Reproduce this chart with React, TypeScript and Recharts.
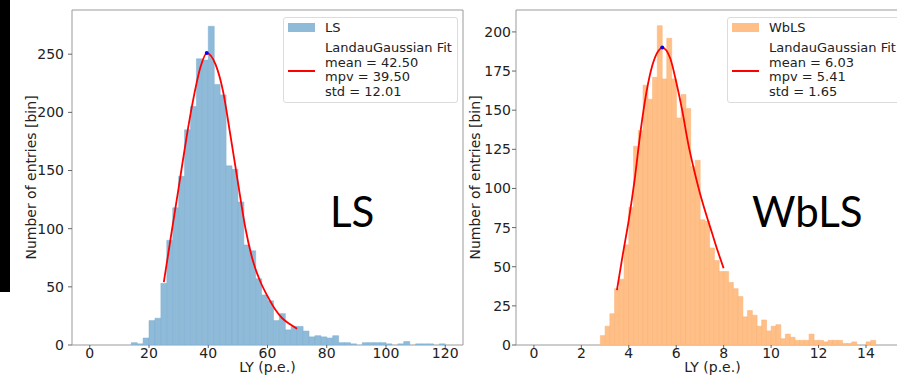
import React from 'react';
import {
  ComposedChart, Bar, Line, XAxis, YAxis, ReferenceArea, ReferenceDot, Legend
} from 'recharts';

// LS histogram (left bin edge in p.e., bin width 2)
const lsBinLeft = [14, 16, 18, 20, 22, 24, 26, 28, 30, 32, 34, 36, 38, 40, 42, 44, 46, 48, 50, 52, 54, 56, 58, 60, 62, 64, 66, 68, 70, 72, 74, 76, 78, 80, 82, 84, 86, 88, 90, 92, 94, 96, 98, 100, 102, 104, 106, 108, 110, 112, 114, 116, 118];
const lsCounts = [2, 1, 6, 21, 23, 53, 90, 118, 145, 185, 205, 246, 245, 274, 224, 215, 154, 151, 123, 86, 81, 57, 43, 38, 21, 27, 13, 16, 16, 12, 7, 8, 7, 6, 8, 2, 2, 1, 0, 2, 2, 2, 2, 1, 0, 1, 3, 0, 1, 1, 1, 0, 1];
// LandauGaussian fit
const lsFitX = [25, 27.5, 30, 32.5, 35, 37.5, 39.5, 42.5, 45, 47.5, 50, 52.5, 55, 57.5, 60, 62.5, 65, 67.5, 70];
const lsFitY = [54, 95, 135, 176, 212, 240, 251, 241, 218, 180, 140, 101, 73, 55, 42, 31, 23, 18, 14];
const lsXTicks = [0, 20, 40, 60, 80, 100, 120];
const lsYTicks = [0, 50, 100, 150, 200, 250];

// WbLS histogram (left bin edge in p.e., bin width 0.2)
const wblsBinLeft = [2.8, 3.0, 3.2, 3.4, 3.6, 3.8, 4.0, 4.2, 4.4, 4.6, 4.8, 5.0, 5.2, 5.4, 5.6, 5.8, 6.0, 6.2, 6.4, 6.6, 6.8, 7.0, 7.2, 7.4, 7.6, 7.8, 8.0, 8.2, 8.4, 8.6, 8.8, 9.0, 9.2, 9.4, 9.6, 9.8, 10.0, 10.2, 10.4, 10.6, 10.8, 11.0, 11.2, 11.4, 11.6, 11.8, 12.0, 12.2, 12.4, 12.6, 12.8, 13.0, 13.2, 13.4, 13.6, 13.8, 14.0, 14.2];
const wblsCounts = [6, 12, 20, 36, 42, 64, 88, 127, 137, 166, 157, 171, 204, 170, 196, 170, 145, 160, 151, 114, 118, 80, 79, 62, 54, 47, 47, 40, 36, 31, 18, 22, 19, 12, 16, 9, 12, 13, 4, 7, 5, 3, 3, 3, 7, 3, 3, 2, 3, 3, 3, 1, 1, 2, 0, 0, 2, 3];
const wblsFitX = [3.5, 3.75, 4, 4.25, 4.5, 4.75, 5, 5.25, 5.41, 5.75, 6, 6.25, 6.5, 6.75, 7, 7.25, 7.5, 7.75, 8];
const wblsFitY = [35, 58, 80, 106, 137, 162, 179, 188, 190, 183, 168, 150, 129, 112, 97, 84, 72, 60, 49];
const wblsXTicks = [0, 2, 4, 6, 8, 10, 12, 14];
const wblsYTicks = [0, 25, 50, 75, 100, 125, 150, 175, 200];

const FONT = 'DejaVu Sans';

interface LegendInfo {
  name: string;
  mean: string;
  mpv: string;
  std: string;
  left: number;
}

interface PanelProps {
  bins: { x: number; count: number }[];
  fit: { x: number; y: number }[];
  peak: { x: number; y: number };
  xDomain: [number, number];
  xTicks: number[];
  yMax: number;
  yTicks: number[];
  fill: string;
  edge: string;
  left: number;
  width: number;
  yAxisWidth: number;
  yTickMargin: number;
  marginRight: number;
  legend: LegendInfo;
}

const FitLegend = ({ info, fill }: { info: LegendInfo; fill: string }) => (
  <div style={{
    position: 'relative', boxSizing: 'border-box', width: 175, height: 86,
    border: '1px solid #dcdcdc', borderRadius: 3, background: 'rgba(255,255,255,0.85)',
    fontFamily: FONT, fontSize: 13, lineHeight: '14.5px', color: '#222', whiteSpace: 'nowrap',
  }}>
    <div style={{ position: 'absolute', left: 4, top: 5, width: 27, height: 9, background: fill }} />
    <div style={{ position: 'absolute', left: 41, top: 3 }}>{info.name}</div>
    <div style={{ position: 'absolute', left: 4, top: 52, width: 27, height: 2, background: '#ff0000' }} />
    <div style={{ position: 'absolute', left: 41, top: 23 }}>
      <div>LandauGaussian Fit</div>
      <div>mean = {info.mean}</div>
      <div>mpv = {info.mpv}</div>
      <div>std = {info.std}</div>
    </div>
  </div>
);

const HistPanel: React.FC<PanelProps> = (p) => {
  const tickStyle = { fontSize: 14, fill: '#222', fontFamily: FONT };
  return (
    <div style={{ position: 'absolute', left: p.left, top: 0 }}>
      <ComposedChart
        width={p.width}
        height={375}
        data={p.bins}
        margin={{ top: 10, right: p.marginRight, bottom: 0, left: 0 }}
        barCategoryGap={0}
        barGap={0}
      >
        <XAxis xAxisId="bins" type="number" dataKey="x" domain={p.xDomain} ticks={p.xTicks}
          allowDataOverflow height={30} axisLine={false} tickSize={3} tickMargin={0}
          tickLine={{ stroke: '#666' }} tick={tickStyle} />
        <XAxis xAxisId="fit" type="number" dataKey="x" domain={p.xDomain} allowDataOverflow hide />
        <YAxis type="number" domain={[0, p.yMax]} ticks={p.yTicks} allowDataOverflow
          width={p.yAxisWidth} axisLine={false} tickSize={4} tickMargin={p.yTickMargin}
          tickLine={{ stroke: '#666' }} tick={tickStyle} />
        <ReferenceArea xAxisId="bins" x1={p.xDomain[0]} x2={p.xDomain[1]} y1={0} y2={p.yMax}
          fill="none" stroke="#9a9a9a" strokeWidth={1} />
        <Bar xAxisId="bins" dataKey="count" fill={p.fill} stroke={p.edge} strokeWidth={0.5}
          isAnimationActive={false} />
        <Line xAxisId="fit" data={p.fit} dataKey="y" type="monotone" stroke="#ff0000"
          strokeWidth={1.8} dot={false} isAnimationActive={false} />
        <ReferenceDot xAxisId="fit" x={p.peak.x} y={p.peak.y} r={2} fill="#0000ff" stroke="none" />
        <Legend layout="vertical" align="center" verticalAlign="middle"
          wrapperStyle={{ left: p.legend.left, top: 17, width: 175, height: 86 }}
          content={() => <FitLegend info={p.legend} fill={p.fill} />} />
      </ComposedChart>
    </div>
  );
};

const App: React.FC = () => {
  const lsBins = lsBinLeft.map((e, i) => ({ x: e + 1, count: lsCounts[i] }));
  const lsFit = lsFitX.map((x, i) => ({ x, y: lsFitY[i] }));
  const wblsBins = wblsBinLeft.map((e, i) => ({ x: e + 0.1, count: wblsCounts[i] }));
  const wblsFit = wblsFitX.map((x, i) => ({ x, y: wblsFitY[i] }));

  return (
    <div style={{ position: 'absolute', left: 0, top: 0, width: 897, height: 375, overflow: 'hidden', background: '#fff' }}>
      <div style={{ position: 'absolute', left: 0, top: 0, width: 10, height: 292, background: '#000' }} />
      <HistPanel
        bins={lsBins} fit={lsFit} peak={{ x: 39.5, y: 251 }}
        xDomain={[-6, 126]} xTicks={lsXTicks} yMax={288} yTicks={lsYTicks}
        fill="#8fbbd9" edge="#7cafd3"
        left={0} width={470} yAxisWidth={72} yTickMargin={4} marginRight={7}
        legend={{ name: 'LS', mean: '42.50', mpv: '39.50', std: '12.01', left: 283 }}
      />
      <HistPanel
        bins={wblsBins} fit={wblsFit} peak={{ x: 5.41, y: 190 }}
        xDomain={[-0.755, 15.855]} xTicks={wblsXTicks} yMax={214} yTicks={wblsYTicks}
        fill="#ffbf86" edge="#f7b47a"
        left={450} width={460} yAxisWidth={66} yTickMargin={1} marginRight={0}
        legend={{ name: 'WbLS', mean: '6.03', mpv: '5.41', std: '1.65', left: 277 }}
      />
      <svg width={897} height={375} style={{ position: 'absolute', left: 0, top: 0, pointerEvents: 'none' }}>
        <g fontFamily={FONT} fontSize={14} fill="#222" textAnchor="middle">
          <text transform="translate(31,177.5) rotate(-90)" dominantBaseline="central">Number of entries [bin]</text>
          <text transform="translate(475,177.5) rotate(-90)" dominantBaseline="central">Number of entries [bin]</text>
          <text x={267.5} y={371.5}>LY (p.e.)</text>
          <text x={712.5} y={371.5}>LY (p.e.)</text>
        </g>
        <g fontFamily="Lato" fontSize={42} fill="#000">
          <text x={330} y={227}>LS</text>
          <text x={752} y={227}>WbLS</text>
        </g>
      </svg>
    </div>
  );
};

export default App;
